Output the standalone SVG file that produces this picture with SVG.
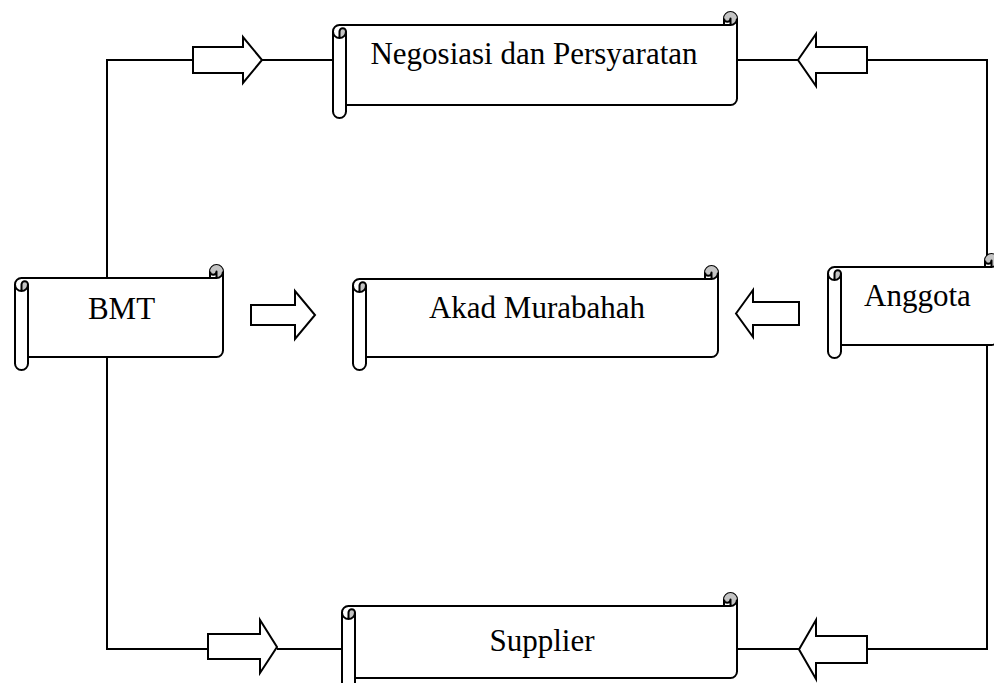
<svg xmlns="http://www.w3.org/2000/svg" width="994" height="683" viewBox="0 0 994 683">
<style>
  .ln { fill: none; stroke: #000; stroke-width: 2; }
  .ba { fill: #fff; stroke: #000; stroke-width: 2; stroke-linejoin: miter; }
  .body { fill: #fff; stroke: #000; stroke-width: 2; stroke-linejoin: round; }
  .dark { fill: #c4c4c4; stroke: none; }
  .det { fill: none; stroke: #000; stroke-width: 2; stroke-linejoin: round; }
  .lbl { font-family: "Liberation Serif", "Times New Roman", serif; font-size: 31px; fill: #000; text-anchor: middle; }
</style>
<rect width="994" height="683" fill="#fff"/>
<g id="connectors">
  <path class="ln" d="M193,60 H107 V649 H208"/>
  <path class="ln" d="M262,60 H340"/>
  <path class="ln" d="M737,60 H798"/>
  <path class="ln" d="M867,60 H987 V649 H867"/>
  <path class="ln" d="M277,649 H348"/>
  <path class="ln" d="M737,649 H799"/>
  <polygon class="ba" points="193,47 243,47 243,37 262,60 243,83 243,73 193,73"/>
  <polygon class="ba" points="798,60 816,34 816,47 867,47 867,73 816,73 816,86"/>
  <polygon class="ba" points="251,305 295,305 295,291 315,315 295,339 295,325 251,325"/>
  <polygon class="ba" points="736,313.5 753,290 753,302 799,302 799,325 753,325 753,337"/>
  <polygon class="ba" points="208,634 260,634 260,620 277,647 260,673 260,659 208,659"/>
  <polygon class="ba" points="799,649.5 816,620 816,636 867,636 867,663 816,663 816,679"/>
</g>
<g id="node-negosiasi">
  <g transform="translate(333,12)">
    <path class="body" d="M0,19.5 A6.5,6.5 0 0 1 6.5,13 L391,13 L391,6.5 A6.5,6.5 0 0 1 404,6.5 L404,86.5 A6.5,6.5 0 0 1 397.5,93 L13,93 L13,99.5 A6.5,6.5 0 0 1 0,99.5 Z"/>
    <path class="dark" d="M6.5,26 A6.5,6.5 0 0 0 13,19.5 A3.25,3.25 0 0 0 6.5,19.5 Z M397.5,13 A6.5,6.5 0 1 0 391,6.5 A3.25,3.25 0 0 0 397.5,6.5 Z"/>
    <path class="det" d="M391,13 L397.5,13 A6.5,6.5 0 0 0 404,6.5 M397.5,13 L397.5,6.5 A3.25,3.25 0 0 1 391,6.5 M6.5,26 L6.5,19.5 A3.25,3.25 0 0 1 13,19.5 A6.5,6.5 0 0 1 0,19.5 M13,19.5 L13,93"/>
  </g>
  <text class="lbl" x="534" y="64">Negosiasi dan Persyaratan</text>
</g>
<g id="node-bmt">
  <g transform="translate(15,265)">
    <path class="body" d="M0,19.5 A6.5,6.5 0 0 1 6.5,13 L195,13 L195,6.5 A6.5,6.5 0 0 1 208,6.5 L208,85.5 A6.5,6.5 0 0 1 201.5,92 L13,92 L13,98.5 A6.5,6.5 0 0 1 0,98.5 Z"/>
    <path class="dark" d="M6.5,26 A6.5,6.5 0 0 0 13,19.5 A3.25,3.25 0 0 0 6.5,19.5 Z M201.5,13 A6.5,6.5 0 1 0 195,6.5 A3.25,3.25 0 0 0 201.5,6.5 Z"/>
    <path class="det" d="M195,13 L201.5,13 A6.5,6.5 0 0 0 208,6.5 M201.5,13 L201.5,6.5 A3.25,3.25 0 0 1 195,6.5 M6.5,26 L6.5,19.5 A3.25,3.25 0 0 1 13,19.5 A6.5,6.5 0 0 1 0,19.5 M13,19.5 L13,92"/>
  </g>
  <text class="lbl" x="121.5" y="319">BMT</text>
</g>
<g id="node-akad">
  <g transform="translate(353,266)">
    <path class="body" d="M0,19.5 A6.5,6.5 0 0 1 6.5,13 L352,13 L352,6.5 A6.5,6.5 0 0 1 365,6.5 L365,84.5 A6.5,6.5 0 0 1 358.5,91 L13,91 L13,97.5 A6.5,6.5 0 0 1 0,97.5 Z"/>
    <path class="dark" d="M6.5,26 A6.5,6.5 0 0 0 13,19.5 A3.25,3.25 0 0 0 6.5,19.5 Z M358.5,13 A6.5,6.5 0 1 0 352,6.5 A3.25,3.25 0 0 0 358.5,6.5 Z"/>
    <path class="det" d="M352,13 L358.5,13 A6.5,6.5 0 0 0 365,6.5 M358.5,13 L358.5,6.5 A3.25,3.25 0 0 1 352,6.5 M6.5,26 L6.5,19.5 A3.25,3.25 0 0 1 13,19.5 A6.5,6.5 0 0 1 0,19.5 M13,19.5 L13,91"/>
  </g>
  <text class="lbl" x="537" y="318">Akad Murabahah</text>
</g>
<g id="node-anggota">
  <g transform="translate(828,254)">
    <path class="body" d="M0,19.5 A6.5,6.5 0 0 1 6.5,13 L157,13 L157,6.5 A6.5,6.5 0 0 1 170,6.5 L170,84.5 A6.5,6.5 0 0 1 163.5,91 L13,91 L13,97.5 A6.5,6.5 0 0 1 0,97.5 Z"/>
    <path class="dark" d="M6.5,26 A6.5,6.5 0 0 0 13,19.5 A3.25,3.25 0 0 0 6.5,19.5 Z M163.5,13 A6.5,6.5 0 1 0 157,6.5 A3.25,3.25 0 0 0 163.5,6.5 Z"/>
    <path class="det" d="M157,13 L163.5,13 A6.5,6.5 0 0 0 170,6.5 M163.5,13 L163.5,6.5 A3.25,3.25 0 0 1 157,6.5 M6.5,26 L6.5,19.5 A3.25,3.25 0 0 1 13,19.5 A6.5,6.5 0 0 1 0,19.5 M13,19.5 L13,91"/>
  </g>
  <text class="lbl" x="917.5" y="306">Anggota</text>
</g>
<g id="node-supplier">
  <g transform="translate(342,593)">
    <path class="body" d="M0,19.5 A6.5,6.5 0 0 1 6.5,13 L382,13 L382,6.5 A6.5,6.5 0 0 1 395,6.5 L395,78.5 A6.5,6.5 0 0 1 388.5,85 L13,85 L13,91.5 A6.5,6.5 0 0 1 0,91.5 Z"/>
    <path class="dark" d="M6.5,26 A6.5,6.5 0 0 0 13,19.5 A3.25,3.25 0 0 0 6.5,19.5 Z M388.5,13 A6.5,6.5 0 1 0 382,6.5 A3.25,3.25 0 0 0 388.5,6.5 Z"/>
    <path class="det" d="M382,13 L388.5,13 A6.5,6.5 0 0 0 395,6.5 M388.5,13 L388.5,6.5 A3.25,3.25 0 0 1 382,6.5 M6.5,26 L6.5,19.5 A3.25,3.25 0 0 1 13,19.5 A6.5,6.5 0 0 1 0,19.5 M13,19.5 L13,85"/>
  </g>
  <text class="lbl" x="542" y="651">Supplier</text>
</g>
</svg>
